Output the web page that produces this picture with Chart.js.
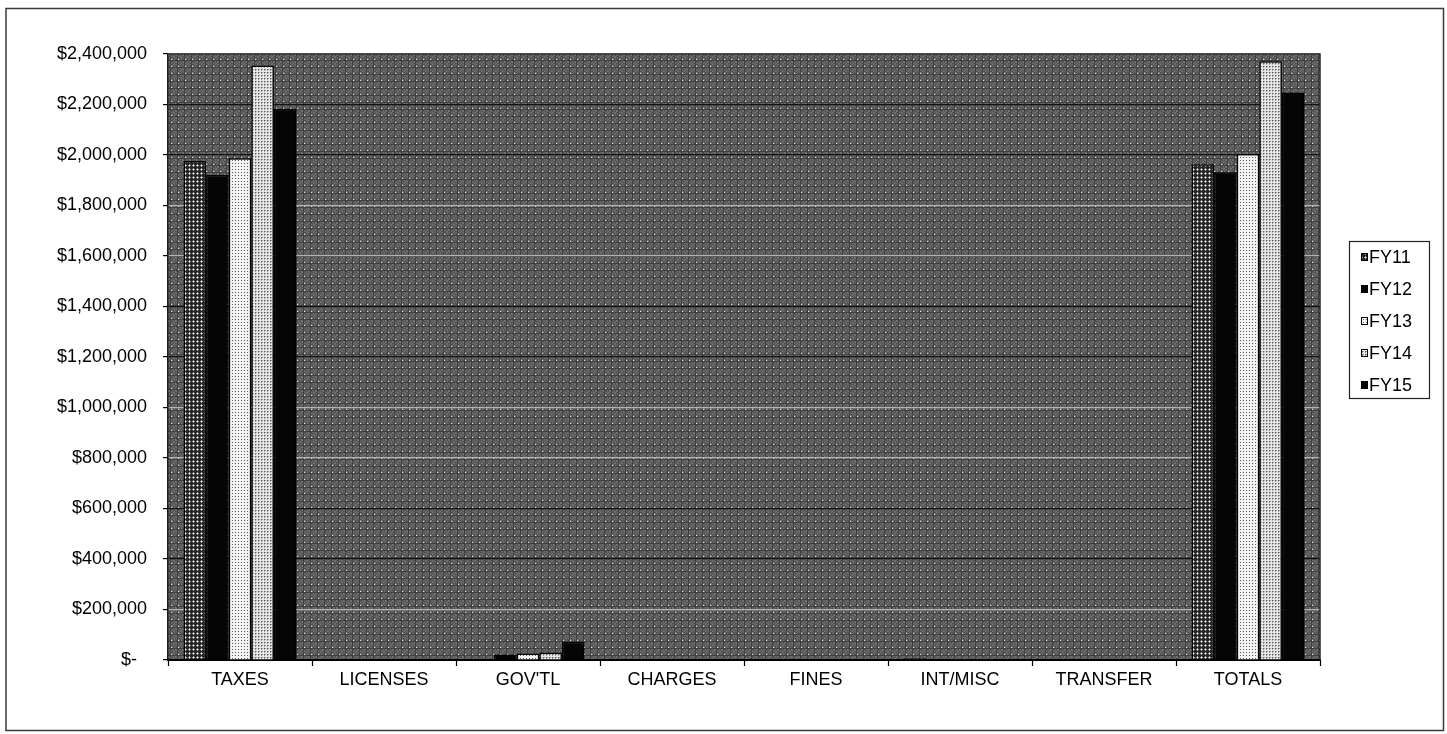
<!DOCTYPE html>
<html>
<head>
<meta charset="utf-8">
<title>Revenue by source, FY11–FY15</title>
<script src="https://cdn.jsdelivr.net/npm/chart.js@4/dist/chart.umd.min.js"></script>
<style>
  html, body { margin: 0; padding: 0; background: #fff; }
  canvas { display: block; }
</style>
</head>
<body>
<canvas id="revenue" width="1447" height="734"></canvas>
<script>
// Revenue sources and yearly amounts (dollars)
const categories = ['TAXES', 'LICENSES', "GOV'TL", 'CHARGES', 'FINES', 'INT/MISC', 'TRANSFER', 'TOTALS'];
const seriesNames = ['FY11', 'FY12', 'FY13', 'FY14', 'FY15'];
const fy11 = [1976000, 0, 0,     0, 0, 7000, 0, 1963000];
const fy12 = [1921000, 0, 22000, 0, 0, 3000, 0, 1932000];
const fy13 = [1987000, 0, 26000, 0, 0, 3000, 0, 2004000];
const fy14 = [2354000, 0, 30000, 0, 0, 3000, 0, 2371000];
const fy15 = [2183000, 0, 72000, 0, 0, 3000, 0, 2248000];
const yTicks = { min: 0, max: 2400000, step: 200000 };

const FONT = '"Liberation Sans", Arial, Helvetica, sans-serif';

// Small tiled fills that give the bars and the plot area their halftone look
function makeTile(size, paint) {
  const c = document.createElement('canvas');
  c.width = size; c.height = size;
  const g = c.getContext('2d');
  paint(g, size);
  return document.createElement('canvas').getContext('2d').createPattern(c, 'repeat');
}
function px(g, x, y, col) { g.fillStyle = col; g.fillRect(x, y, 1, 1); }

const plotFill = makeTile(7, (g, n) => {
  const greys = ['#4a4a4a', '#5e5e5e', '#6c6c6c', '#545454', '#7a7a7a', '#626262', '#404040'];
  for (let y = 0; y < n; y++) {
    for (let x = 0; x < n; x++) {
      px(g, x, y, greys[(x * 3 + y * 5 + x * y) % greys.length]);
    }
  }
  px(g, 3, 3, '#e4e4e4');
});
const crossFill = makeTile(4, (g) => {
  g.fillStyle = '#262626'; g.fillRect(0, 0, 4, 4);
  px(g, 1, 1, '#ffffff');
  px(g, 0, 1, '#9a9a9a'); px(g, 2, 1, '#9a9a9a');
  px(g, 1, 0, '#9a9a9a'); px(g, 1, 2, '#9a9a9a');
});
const dotFill = makeTile(3, (g) => {
  g.fillStyle = '#f4f4f4'; g.fillRect(0, 0, 3, 3);
  px(g, 1, 1, '#5a5a5a');
});
const meshFill = makeTile(3, (g) => {
  g.fillStyle = '#e6e6e6'; g.fillRect(0, 0, 3, 3);
  px(g, 0, 0, '#5a5a5a');
  px(g, 1, 0, '#a0a0a0'); px(g, 0, 1, '#a0a0a0');
});

const seriesValues = [fy11, fy12, fy13, fy14, fy15];
const seriesFills = [crossFill, '#050505', dotFill, meshFill, '#050505'];

// Page frame, textured plot area and its outline
const plotBackdrop = {
  id: 'plotBackdrop',
  beforeDraw(chart) {
    const { ctx, chartArea: a, width, height } = chart;
    ctx.save();
    ctx.fillStyle = '#ffffff';
    ctx.fillRect(0, 0, width, height);
    ctx.strokeStyle = '#3a3a3a';
    ctx.lineWidth = 1.5;
    ctx.strokeRect(6, 8.5, 1437.5, 722);
    ctx.fillStyle = plotFill;
    ctx.fillRect(a.left, a.top, a.right - a.left, a.bottom - a.top);
    ctx.restore();
  },
  afterDatasetsDraw(chart) {
    const { ctx, chartArea: a } = chart;
    ctx.save();
    ctx.strokeStyle = '#2a2a2a';
    ctx.lineWidth = 1.5;
    ctx.beginPath();
    ctx.moveTo(a.left, a.top);
    ctx.lineTo(a.right, a.top);
    ctx.lineTo(a.right, a.bottom);
    ctx.stroke();
    ctx.restore();
  }
};

// Boxed series key on the right
const seriesKey = {
  id: 'seriesKey',
  afterDraw(chart) {
    const { ctx } = chart;
    const box = { x: 1349, y: 241, w: 80, h: 157 };
    ctx.save();
    ctx.strokeStyle = '#222';
    ctx.lineWidth = 1.2;
    ctx.strokeRect(box.x + 0.5, box.y + 0.5, box.w, box.h);
    ctx.font = '18px ' + FONT;
    ctx.textBaseline = 'middle';
    ctx.textAlign = 'left';
    chart.data.datasets.forEach((ds, i) => {
      const cy = 257 + i * 32;
      ctx.fillStyle = ds.backgroundColor;
      ctx.fillRect(1361, cy - 4, 7, 8);
      ctx.strokeStyle = '#000';
      ctx.lineWidth = 1;
      ctx.strokeRect(1361.5, cy - 3.5, 6, 7);
      ctx.fillStyle = '#000';
      ctx.fillText(ds.label, 1369, cy + 1);
    });
    ctx.restore();
  }
};

new Chart(document.getElementById('revenue'), {
  type: 'bar',
  data: {
    labels: categories,
    datasets: seriesNames.map((name, i) => ({
      label: name,
      data: seriesValues[i],
      backgroundColor: seriesFills[i],
      borderColor: '#000',
      borderWidth: 1.5,
      categoryPercentage: 0.785,
      barPercentage: 1.0
    }))
  },
  options: {
    responsive: false,
    devicePixelRatio: 1,
    animation: false,
    layout: { padding: { left: 0, top: 54, right: 127, bottom: 0 } },
    plugins: {
      legend: { display: false },
      tooltip: { enabled: false }
    },
    scales: {
      x: {
        grid: {
          offset: true,
          drawOnChartArea: false,
          drawTicks: true,
          tickLength: 6,
          tickColor: '#000',
          tickWidth: 1.2
        },
        border: { display: true, color: '#000', width: 2 },
        ticks: {
          color: '#000',
          font: { family: FONT, size: 18 },
          padding: 3,
          maxRotation: 0,
          autoSkip: false
        },
        afterFit(scale) { scale.height = 74; }
      },
      y: {
        min: yTicks.min,
        max: yTicks.max,
        grid: {
          color(c) {
            const k = c.index % 4;
            return (k === 0 || k === 1) ? '#b4b4b4' : '#121212';
          },
          lineWidth: 1.2,
          drawTicks: true,
          tickLength: 5,
          tickColor: '#000',
          tickWidth: 1.2
        },
        border: { display: true, color: '#1a1a1a', width: 1.5 },
        ticks: {
          stepSize: yTicks.step,
          color: '#000',
          font: { family: FONT, size: 18 },
          padding: 16,
          callback(v) {
            return v === 0 ? '$-  ' : '$' + Number(v).toLocaleString('en-US');
          }
        },
        afterFit(scale) { scale.width = 168; }
      }
    }
  },
  plugins: [plotBackdrop, seriesKey]
});
</script>
</body>
</html>
